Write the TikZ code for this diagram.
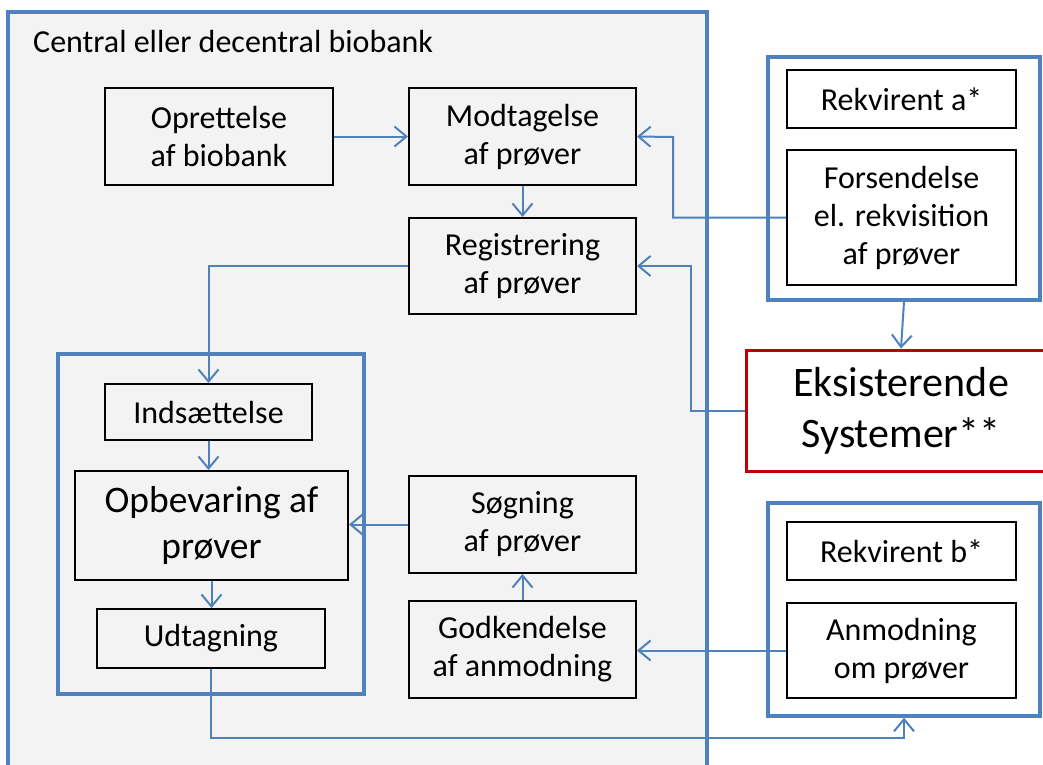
\documentclass[tikz,border=0pt]{standalone}
\usepackage{fontspec}
\setmainfont{Carlito}
\usepackage{tikz}
\usetikzlibrary{arrows.meta,positioning,calc}
\definecolor{accblue}{HTML}{4F81BD}
\definecolor{panelgray}{HTML}{F3F3F3}
\definecolor{sysred}{HTML}{C00000}
\tikzset{
  >={Straight Barb[length=12pt,width=20pt]},
  every node/.append style={font=\fontsize{32}{38}\selectfont},
}
\tikzset{
  panel/.style={draw=accblue, line width=3.5pt, inner sep=0pt},
  stage/.style={draw=black, line width=2pt, align=center, inner sep=0pt},
  flow/.style={->, draw=accblue, line width=2pt}
}
\begin{document}
\begin{tikzpicture}[
  x=1pt, y=-1pt,
  bigtext/.style={font=\fontsize{37.5}{46}\selectfont},
  systext/.style={font=\fontsize{42}{51}\selectfont}
]
\useasboundingbox (0,0) rectangle (1043,764);
\clip (0,0) rectangle (1043,764);
\fill[white] (0,0) rectangle (1043,764);

% biobank panel
\node[panel, fill=panelgray, minimum width=699pt, minimum height=800pt] (bio) at (357.5,412) {};
\node[anchor=base west, inner sep=0pt] (title) at (33,52) {Central eller decentral biobank};

% storage panel
\node[panel, minimum width=306pt, minimum height=340pt] (store) at (211,524) {};

% stages in the biobank
\node[stage, minimum width=228pt, minimum height=97pt] (opr) at (219,136.5) {Oprettelse\\af biobank};
\node[stage, minimum width=227pt, minimum height=97pt] (mod) at (522.5,136.5) {Modtagelse\\af prøver};
\node[stage, minimum width=227pt, minimum height=96pt] (reg) at (522.5,266) {Registrering\\af prøver};
\node[stage, minimum width=207pt, minimum height=56pt] (ind) at (208.5,412) {Indsættelse};
\node[stage, bigtext, minimum width=273pt, minimum height=109pt] (opb) at (211.5,525.5) {Opbevaring af\\prøver};
\node[stage, minimum width=228pt, minimum height=59pt] (udt) at (211,638.5) {Udtagning};
\node[stage, minimum width=227pt, minimum height=97pt] (sog) at (522.5,524.5) {Søgning\\af prøver};
\node[stage, minimum width=227pt, minimum height=97pt] (god) at (522.5,649.5) {Godkendelse\\af anmodning};

% requesters
\node[panel, fill=white, minimum width=272pt, minimum height=243pt] (pa) at (904,178.5) {};
\node[stage, minimum width=229pt, minimum height=58pt] (rka) at (901.5,99) {Rekvirent a*};
\node[stage, minimum width=229pt, minimum height=135pt] (fors) at (901.5,217.5) {Forsendelse\\el. rekvisition\\af prøver};

\node[panel, fill=white, minimum width=272pt, minimum height=213pt] (pb) at (904,609.5) {};
\node[stage, minimum width=229pt, minimum height=58pt] (rkb) at (901.5,551) {Rekvirent b*};
\node[stage, minimum width=229pt, minimum height=95pt] (anm) at (901.5,650.5) {Anmodning\\om prøver};

% existing systems
\node[draw=sysred, line width=3pt, fill=white, systext, align=center, inner sep=0pt,
  minimum width=310pt, minimum height=121pt] (eks) at (901,410.5) {Eksisterende\\Systemer**};

% bends
\coordinate (k1) at (673,137);
\coordinate (k2) at (691,266);
\coordinate (k3) at (904,738);

% connectors
\draw[flow] (opr.east) -- (mod.west);
\draw[flow] (mod.south) -- (reg.north);
\draw[flow] (fors.west) -| (k1) -- (mod.east);
\draw[flow] (eks.west) -| (k2) -- (reg.east);
\draw[flow] (pa.south) -- (eks.north);
\draw[flow] (reg.west) -| (ind.north);
\draw[flow] (ind.south) -- (ind.south |- opb.north);
\draw[flow] (opb.south) -- (opb.south |- udt.north);
\draw[flow] (sog.west) -- (sog.west -| opb.east);
\draw[flow] (god.north) -- (sog.south);
\draw[flow] (anm.west) -- (anm.west -| god.east);
\draw[flow] (udt.south) |- (k3) -- (pb.south);

\end{tikzpicture}
\end{document}
